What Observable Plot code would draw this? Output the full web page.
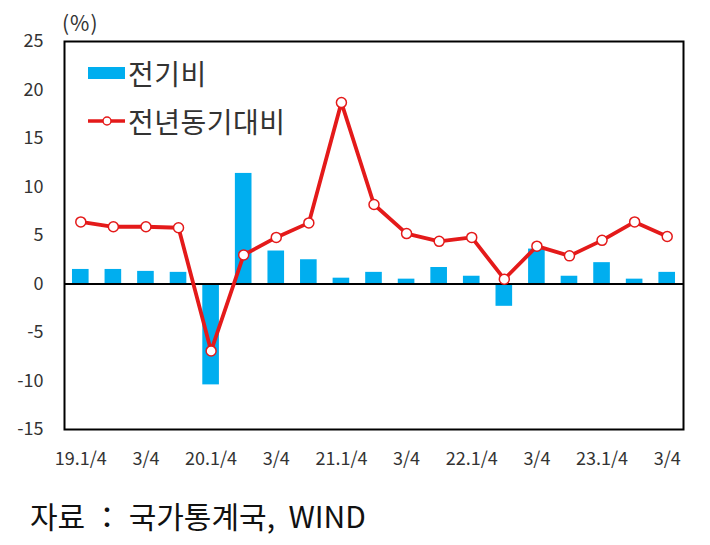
<!DOCTYPE html>
<html>
<head>
<meta charset="utf-8">
<script src="https://cdn.jsdelivr.net/npm/d3@7"></script>
<script src="https://cdn.jsdelivr.net/npm/@observablehq/plot@0.6"></script>
<style>
  body { margin: 0; background: #fff; }
  #wrap { position: relative; width: 710px; height: 545px; font-family: "Noto Sans CJK KR", "Noto Sans", sans-serif; color: #222; }
  #chart svg { display: block; }
  .unit { position: absolute; left: 62px; top: 7px; font-size: 21px; letter-spacing: 1px; color: #333; }
  .legend { position: absolute; left: 88px; top: 49px; }
  .legend .row { display: flex; align-items: center; height: 48px; font-size: 28px; letter-spacing: 0.5px; color: #333; }
  .legend svg { display: block; margin-right: 3px; }
  .caption { position: absolute; left: 30px; top: 493px; font-size: 30px; line-height: 44px; color: #111; white-space: pre; }
</style>
</head>
<body>
<div id="wrap">
  <div id="chart"></div>
  <div class="unit">(%)</div>
  <div class="legend" id="legend"></div>
  <div class="caption" id="caption"></div>
</div>
<script>
const quarters = ["19.1/4","19.2/4","19.3/4","19.4/4","20.1/4","20.2/4","20.3/4","20.4/4","21.1/4","21.2/4","21.3/4","21.4/4","22.1/4","22.2/4","22.3/4","22.4/4","23.1/4","23.2/4","23.3/4"];
const qoq = [1.5, 1.5, 1.3, 1.2, -10.4, 11.4, 3.4, 2.5, 0.6, 1.2, 0.5, 1.7, 0.8, -2.3, 3.6, 0.8, 2.2, 0.5, 1.2];
const yoy = [6.4, 5.9, 5.9, 5.8, -6.9, 3.0, 4.8, 6.3, 18.7, 8.2, 5.2, 4.4, 4.8, 0.5, 3.9, 2.9, 4.5, 6.4, 4.9];
const tickQuarters = ["19.1/4","19.3/4","20.1/4","20.3/4","21.1/4","21.3/4","22.1/4","22.3/4","23.1/4","23.3/4"];
const tickLabels = ["19.1/4","3/4","20.1/4","3/4","21.1/4","3/4","22.1/4","3/4","23.1/4","3/4"];
const yTicks = [-15, -10, -5, 0, 5, 10, 15, 20, 25];
const seriesNames = ["전기비", "전년동기대비"];
const captionText = "자료 ： 국가통계국,  WIND";

const barColor = "#00AEEF";
const lineColor = "#E41A1A";

const data = quarters.map((q, i) => ({q, qoq: qoq[i], yoy: yoy[i]}));

const chart = Plot.plot({
  width: 710,
  height: 480,
  marginTop: 41,
  marginBottom: 51,
  marginLeft: 64,
  marginRight: 27,
  style: {fontFamily: "'Noto Sans CJK KR', 'Noto Sans', sans-serif", color: "#333", background: "#fff"},
  x: {type: "band", domain: quarters, paddingInner: 0.49, paddingOuter: 0.245, round: false},
  y: {domain: [-15, 25]},
  marks: [
    Plot.barY(data, {x: "q", y: "qoq", fill: barColor}),
    Plot.ruleY([0], {stroke: "#000", strokeWidth: 2}),
    Plot.line(data, {x: "q", y: "yoy", stroke: lineColor, strokeWidth: 3.8, strokeLinejoin: "round"}),
    Plot.dot(data, {x: "q", y: "yoy", r: 5, fill: "#fff", stroke: lineColor, strokeWidth: 1.5}),
    Plot.frame({stroke: "#000", strokeWidth: 2}),
    Plot.axisY({ticks: yTicks, tickSize: 0, tickPadding: 21, fontSize: 18, label: null,
      tickFormat: d => String(d), style: {letterSpacing: "1px"}}),
    Plot.axisX({ticks: tickQuarters, tickSize: 0, tickPadding: 23, fontSize: 18, label: null,
      tickFormat: d => tickLabels[tickQuarters.indexOf(d)], style: {letterSpacing: "1.5px"}})
  ]
});
document.getElementById("chart").appendChild(chart);

// legend
const legend = document.getElementById("legend");
seriesNames.forEach((name, i) => {
  const row = document.createElement("div");
  row.className = "row";
  const sw = i === 0
    ? `<svg width="37" height="14"><rect x="0" y="1" width="37" height="12" fill="${barColor}"/></svg>`
    : `<svg width="37" height="14"><line x1="0" y1="7" x2="37" y2="7" stroke="${lineColor}" stroke-width="3.5"/><circle cx="19" cy="7" r="4" fill="#fff" stroke="${lineColor}" stroke-width="1.5"/></svg>`;
  row.innerHTML = sw + `<span>${name}</span>`;
  legend.appendChild(row);
});
document.getElementById("caption").textContent = captionText;
</script>
</body>
</html>
